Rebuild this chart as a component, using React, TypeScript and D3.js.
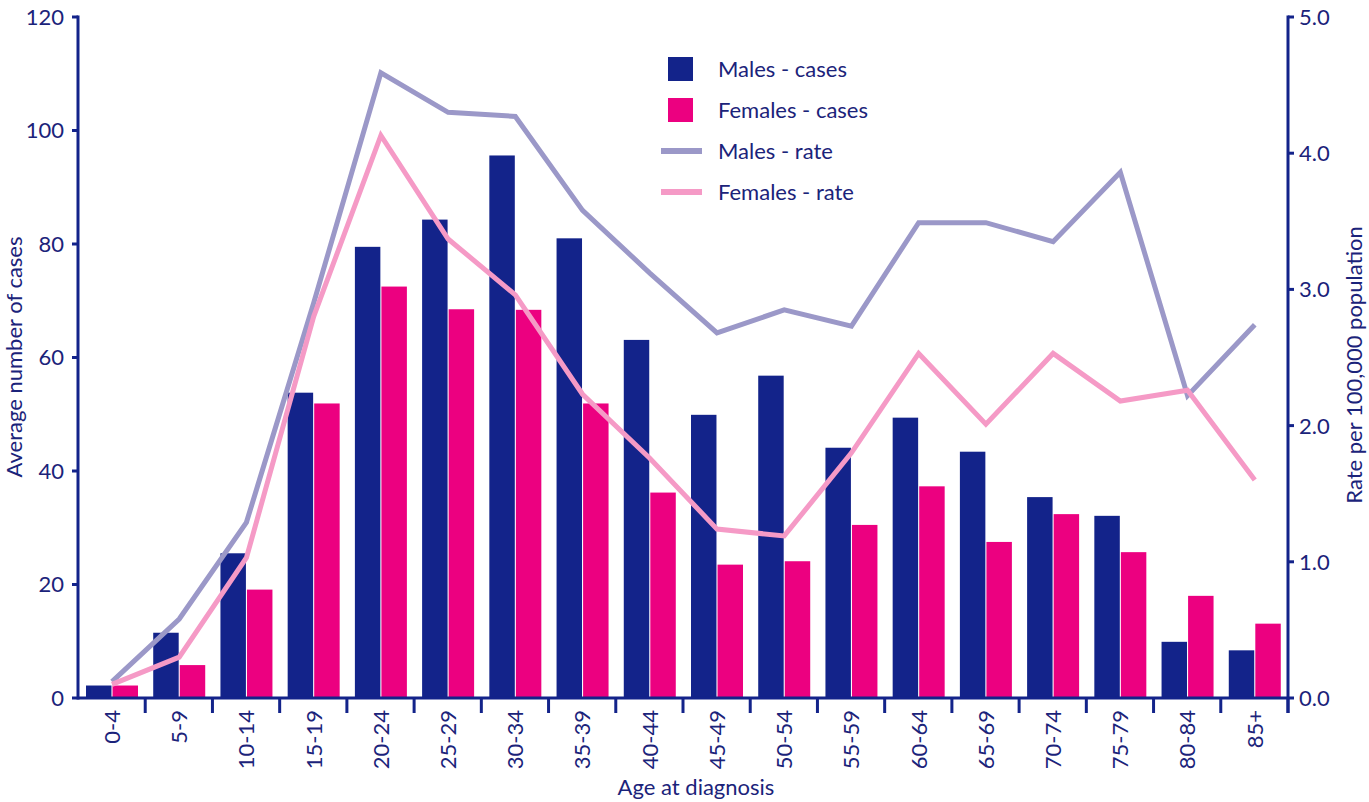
import React from "react";
import * as d3 from "d3";

const ageGroups = ["0-4","5-9","10-14","15-19","20-24","25-29","30-34","35-39","40-44","45-49","50-54","55-59","60-64","65-69","70-74","75-79","80-84","85+"];
const malesCases = [2.2, 11.5, 25.5, 53.8, 79.5, 84.3, 95.6, 81.0, 63.1, 49.9, 56.8, 44.1, 49.4, 43.4, 35.4, 32.1, 9.9, 8.4];
const femalesCases = [2.2, 5.8, 19.1, 51.9, 72.5, 68.5, 68.4, 51.9, 36.2, 23.5, 24.1, 30.5, 37.3, 27.5, 32.4, 25.7, 18.0, 13.1];
const malesRate = [0.12, 0.58, 1.29, 2.9, 4.59, 4.30, 4.27, 3.58, 3.12, 2.68, 2.85, 2.73, 3.49, 3.49, 3.35, 3.86, 2.22, 2.74];
const femalesRate = [0.10, 0.30, 1.03, 2.8, 4.13, 3.37, 2.96, 2.23, 1.76, 1.24, 1.19, 1.80, 2.53, 2.01, 2.53, 2.18, 2.26, 1.60];
const leftTicks = [0, 20, 40, 60, 80, 100, 120];
const rightTicks = [0, 1, 2, 3, 4, 5];
const legendItems = [
  { label: "Males - cases", kind: "bar", key: "m" },
  { label: "Females - cases", kind: "bar", key: "f" },
  { label: "Males - rate", kind: "line", key: "m" },
  { label: "Females - rate", kind: "line", key: "f" },
];

const NAVY = "#13238a";
const TEXT = "#1b237a";
const MBAR = "#13238a";
const FBAR = "#ec0080";
const MLINE = "#9b98c8";
const FLINE = "#f59ac6";
const FONT = "Lato, 'Open Sans', sans-serif";
const FS = 22;

export default function App() {
  const left = 78, right = 1288, top = 17, bottom = 698;
  const x0 = d3.scaleBand().domain(ageGroups).range([left, right]).paddingInner(0).paddingOuter(0);
  const x1 = d3.scaleBand().domain(["m", "f"]).range([8, 60]).paddingInner(0.04);
  const y = d3.scaleLinear().domain([0, 120]).range([bottom, top]);
  const yr = d3.scaleLinear().domain([0, 5]).range([bottom, top]);
  const cx = (g: string) => (x0(g) as number) + 34;

  const mLine = d3.line<number>().x((_, i) => cx(ageGroups[i])).y((d) => yr(d));
  const fLine = d3.line<number>().x((_, i) => cx(ageGroups[i])).y((d) => yr(d));

  const bw = x1.bandwidth();
  const legendY = [69, 110, 151, 192];

  return (
    <svg width={1369} height={802} style={{ position: "absolute", left: 0, top: 0, display: "block", background: "#fff" }} fontFamily={FONT}>
      {ageGroups.map((g, i) => (
        <g key={g}>
          <rect x={(x0(g) as number) + (x1("m") as number)} y={y(malesCases[i])} width={bw} height={bottom - y(malesCases[i])} fill={MBAR} />
          <rect x={(x0(g) as number) + (x1("f") as number)} y={y(femalesCases[i])} width={bw} height={bottom - y(femalesCases[i])} fill={FBAR} />
        </g>
      ))}
      <path d={mLine(malesRate) as string} fill="none" stroke={MLINE} strokeWidth={5} strokeLinejoin="miter" />
      <path d={fLine(femalesRate) as string} fill="none" stroke={FLINE} strokeWidth={5} strokeLinejoin="miter" />

      <line x1={left} x2={right} y1={bottom} y2={bottom} stroke={NAVY} strokeWidth={3} />
      {ageGroups.map((g) => (
        <line key={"t" + g} x1={(x0(g) as number) + x0.step()} x2={(x0(g) as number) + x0.step()} y1={bottom} y2={713} stroke={NAVY} strokeWidth={3} />
      ))}
      {ageGroups.map((g) => (
        <text key={"l" + g} transform={`translate(${cx(g)},710) rotate(-90)`} textAnchor="end" dy="0.36em" fontSize={FS} fill={TEXT}>{g}</text>
      ))}
      <text x={696} y={795} textAnchor="middle" fontSize={FS} fill={TEXT}>Age at diagnosis</text>

      <line x1={left} x2={left} y1={top - 1.5} y2={bottom + 1.5} stroke={NAVY} strokeWidth={3} />
      {leftTicks.map((t) => (
        <g key={"lt" + t}>
          <line x1={72} x2={left} y1={y(t)} y2={y(t)} stroke={NAVY} strokeWidth={3} />
          <text x={64} y={y(t)} dy="0.36em" textAnchor="end" fontSize={FS} fill={TEXT}>{t}</text>
        </g>
      ))}
      <text transform="translate(22,357) rotate(-90)" textAnchor="middle" fontSize={FS} fill={TEXT}>Average number of cases</text>

      <line x1={right} x2={right} y1={top - 1.5} y2={713} stroke={NAVY} strokeWidth={3} />
      {rightTicks.map((t) => (
        <g key={"rt" + t}>
          <line x1={right} x2={1294} y1={yr(t)} y2={yr(t)} stroke={NAVY} strokeWidth={3} />
          <text x={1299} y={yr(t)} dy="0.36em" textAnchor="start" fontSize={FS} fill={TEXT}>{t.toFixed(1)}</text>
        </g>
      ))}
      <text transform="translate(1362,365) rotate(-90)" textAnchor="middle" fontSize={FS} fill={TEXT}>Rate per 100,000 population</text>

      {legendItems.map((it, i) => (
        <g key={it.label}>
          {it.kind === "bar" ? (
            <rect x={668} y={legendY[i] - 12} width={25} height={24} fill={it.key === "m" ? MBAR : FBAR} />
          ) : (
            <line x1={661} x2={702} y1={legendY[i]} y2={legendY[i]} stroke={it.key === "m" ? MLINE : FLINE} strokeWidth={6} />
          )}
          <text x={718} y={legendY[i]} dy="0.36em" fontSize={FS} fill={TEXT}>{it.label}</text>
        </g>
      ))}
    </svg>
  );
}
